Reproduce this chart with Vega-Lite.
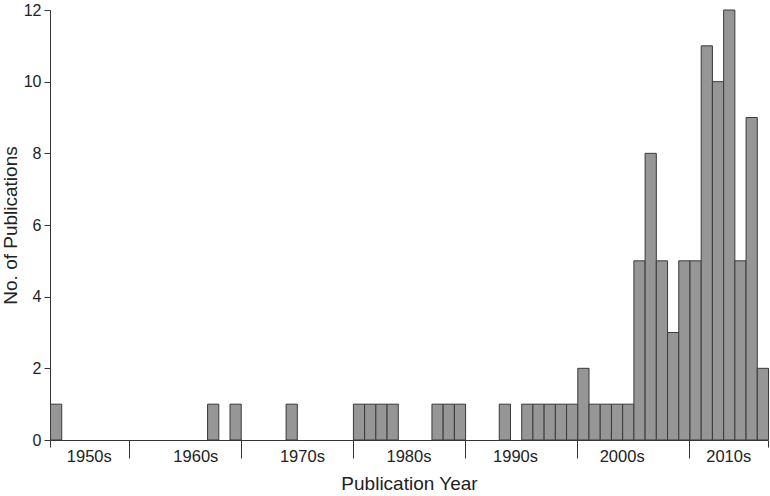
{
  "$schema": "https://vega.github.io/schema/vega-lite/v6.json",
  "width": 718,
  "height": 430,
  "autosize": "none",
  "padding": {"left": 50, "top": 10, "right": 2, "bottom": 56},
  "background": "white",
  "config": {
    "view": {"stroke": null},
    "font": "Liberation Sans",
    "axis": {"domainColor": "#333333", "tickColor": "#333333", "labelColor": "#222222", "titleColor": "#222222", "labelFont": "Liberation Sans", "titleFont": "Liberation Sans", "titleFontWeight": "normal", "grid": false}
  },
  "datasets": {
    "pubs": [
      {"year": 1953, "count": 1},
      {"year": 1967, "count": 1},
      {"year": 1969, "count": 1},
      {"year": 1974, "count": 1},
      {"year": 1980, "count": 1},
      {"year": 1981, "count": 1},
      {"year": 1982, "count": 1},
      {"year": 1983, "count": 1},
      {"year": 1987, "count": 1},
      {"year": 1988, "count": 1},
      {"year": 1989, "count": 1},
      {"year": 1993, "count": 1},
      {"year": 1995, "count": 1},
      {"year": 1996, "count": 1},
      {"year": 1997, "count": 1},
      {"year": 1998, "count": 1},
      {"year": 1999, "count": 1},
      {"year": 2000, "count": 2},
      {"year": 2001, "count": 1},
      {"year": 2002, "count": 1},
      {"year": 2003, "count": 1},
      {"year": 2004, "count": 1},
      {"year": 2005, "count": 5},
      {"year": 2006, "count": 8},
      {"year": 2007, "count": 5},
      {"year": 2008, "count": 3},
      {"year": 2009, "count": 5},
      {"year": 2010, "count": 5},
      {"year": 2011, "count": 11},
      {"year": 2012, "count": 10},
      {"year": 2013, "count": 12},
      {"year": 2014, "count": 5},
      {"year": 2015, "count": 9},
      {"year": 2016, "count": 2}
    ],
    "decades": [
      {"label": "1950s", "pos": 1956.5},
      {"label": "1960s", "pos": 1966},
      {"label": "1970s", "pos": 1975.5},
      {"label": "1980s", "pos": 1985},
      {"label": "1990s", "pos": 1994.5},
      {"label": "2000s", "pos": 2004},
      {"label": "2010s", "pos": 2013.5}
    ]
  },
  "layer": [
    {
      "data": {"name": "pubs"},
      "mark": {"type": "bar", "fill": "#969696", "stroke": "#3a3a3a", "strokeWidth": 1, "binSpacing": 0},
      "encoding": {
        "x": {
          "field": "year",
          "type": "quantitative",
          "bin": {"binned": true, "step": 1},
          "scale": {"domain": [1953, 2017], "nice": false, "zero": false},
          "axis": {
            "title": "Publication Year",
            "titleFontSize": 19,
            "titlePadding": 16,
            "labels": false,
            "values": [1953, 1960, 1970, 1980, 1990, 2000, 2010, 2017],
            "tickSize": {"condition": {"test": "datum.value == 1953 || datum.value == 2017", "value": 7}, "value": 18}
          }
        },
        "y": {
          "field": "count",
          "type": "quantitative",
          "scale": {"domain": [0, 12], "nice": false},
          "axis": {
            "title": "No. of Publications",
            "titleFontSize": 19,
            "titlePadding": 3,
            "values": [0, 2, 4, 6, 8, 10, 12],
            "labelFontSize": 16,
            "tickSize": 6,
            "labelPadding": 3
          }
        }
      }
    },
    {
      "data": {"name": "decades"},
      "mark": {"type": "text", "fontSize": 16.5, "color": "#222222", "baseline": "alphabetic", "align": "center", "dy": 22, "font": "Liberation Sans"},
      "encoding": {
        "x": {"field": "pos", "type": "quantitative"},
        "y": {"datum": 0, "type": "quantitative"},
        "text": {"field": "label"}
      }
    }
  ]
}
